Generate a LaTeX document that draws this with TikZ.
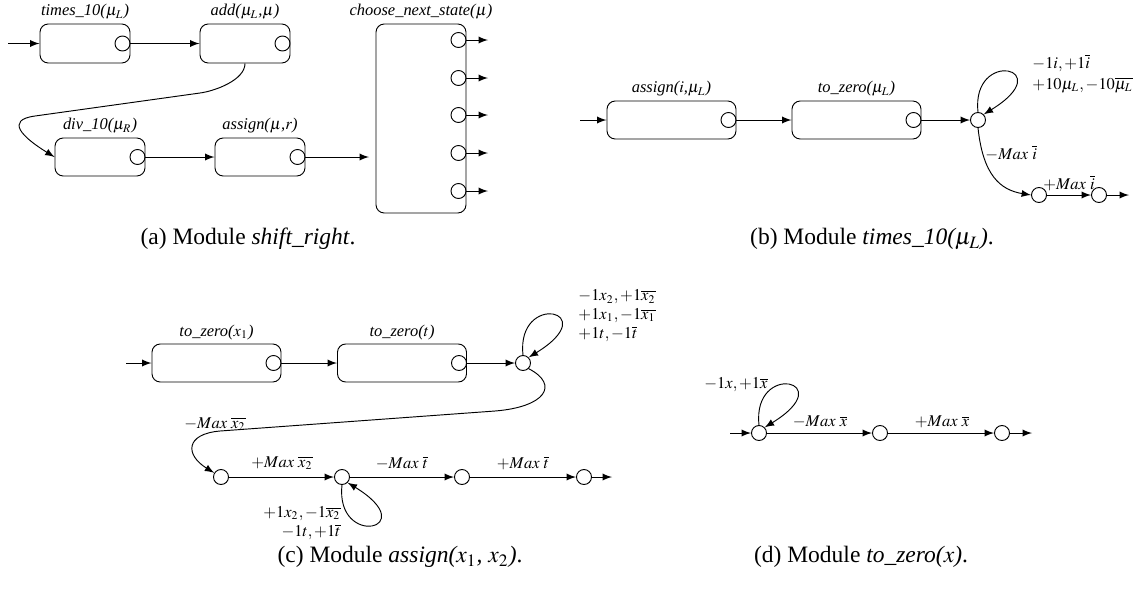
\documentclass[tikz,border=0pt]{standalone}
\usepackage{mathptmx}
\usepackage{fontspec}
\setmainfont{Liberation Serif}
\newcommand{\px}{0.4255pt}
\newcommand{\boite}[6]{
  \node[draw, rounded corners=3.5pt, inner sep=0pt, minimum width=#4*\px, minimum height=#5*\px] (#1) at (#2,#3) {};
  \node[draw, circle, inner sep=0pt, minimum size=15*\px, anchor=east] (#1c) at (#1.east) {};
  \node[above, inner sep=1.5pt, font=\fontsize{7}{8}\selectfont\itshape] (#1t) at (#1.north) {#6};
}
\newcommand{\etat}[3]{\node[draw, circle, inner sep=0pt, minimum size=15*\px] (#1) at (#2,#3) {};}
\newcommand{\boucle}[1]{\draw[-latex] (#1.north) .. controls +(-7,-64) and +(77,-47) .. (#1.north east);}

\begin{document}
\begin{tikzpicture}[x=\px, y=-\px, etiq/.style={inner sep=0pt, font=\fontsize{7}{8}\selectfont}]
\useasboundingbox (0,0) rectangle (1137,589);

\coordinate (ain) at (8,43.5);
\boite{a1}{85}{43.5}{90}{39}{times\_10($\mu_L$)}
\boite{a2}{245}{43.5}{90}{39}{add($\mu_L$,$\mu$)}
\boite{a3}{100}{157}{90}{38}{div\_10($\mu_R$)}
\boite{a4}{260}{157}{90}{38}{assign($\mu$,$r$)}
\node[draw, rounded corners=3.5pt, inner sep=0pt, minimum width=90*\px, minimum height=189*\px] (a5) at (421,118.5) {};
\node[above, inner sep=1.5pt, font=\fontsize{7}{8}\selectfont\itshape] (a5t) at (a5.north) {choose\_next\_state($\mu$)};
\coordinate (a5in) at (369,157);
\draw[-latex] (ain) -- (a1);
\draw[-latex] (a1) -- (a2);
\draw[-latex] (a2.south) .. controls (245,80) and (215,91) .. (200,93) -- (35,116) .. controls (5,120) and (22,137) .. (a3.west);
\draw[-latex] (a3) -- (a4);
\draw[-latex] (a4) -- (a5in);
\foreach \y [count=\i] in {40,78,115,153,191} {
  \etat{q\i}{458.5}{\y}
  \coordinate (o\i) at (488,\y);
  \draw[-latex] (q\i) -- (o\i);
}

\coordinate (bin) at (580,120);
\boite{b1}{671.5}{120}{129}{38}{assign($i$,$\mu_L$)}
\boite{b2}{856.5}{120}{129}{38}{to\_zero($\mu_L$)}
\etat{b3}{978}{120}
\etat{b4}{1039}{195}
\etat{b5}{1099}{195}
\coordinate (bout) at (1129,195);
\draw[-latex] (bin) -- (b1);
\draw[-latex] (b1) -- (b2);
\draw[-latex] (b2) -- (b3);
\boucle{b3}
\draw[-latex] (b3.south) .. controls (983,175) and (1000,190) .. (b4.west);
\draw[-latex] (b4) -- (b5);
\draw[-latex] (b5) -- (bout);
\node[etiq, anchor=west, align=left] (lb1) at (1032,73.5) {$-1i, +1\overline{i}$\\[1pt]$+10\mu_L, -10\overline{\mu_L}$};
\node[etiq, anchor=west] (lb2) at (985,153) {$-Max\ \overline{i}$};
\node[etiq] (lb3) at (1069,183) {$+Max\ \overline{i}$};

\coordinate (cin) at (126,363);
\boite{c1}{216.5}{363}{129}{38}{to\_zero($x_1$)}
\boite{c2}{402}{363}{129}{38}{to\_zero($t$)}
\etat{c3}{523}{363}
\etat{c4}{221}{477}
\etat{c5}{342}{477}
\etat{c6}{462}{477}
\etat{c7}{584}{477}
\coordinate (cout) at (612,477);
\draw[-latex] (cin) -- (c1);
\draw[-latex] (c1) -- (c2);
\draw[-latex] (c2) -- (c3);
\boucle{c3}
\draw[-latex] (c3.south east) .. controls (560,385) and (545,407) .. (495,411) -- (220,431) .. controls (185,434) and (185,455) .. (c4);
\draw[-latex] (c4) -- (c5);
\draw[-latex] (c5) -- (c6);
\draw[-latex] (c6) -- (c7);
\draw[-latex] (c7) -- (cout);
\draw[-latex] (c5.south) .. controls +(-7,64) and +(77,47) .. (c5.south east);
\node[etiq, anchor=west, align=left] (lc1) at (578,315.5) {$-1x_2, +1\overline{x_2}$\\$+1x_1, -1\overline{x_1}$\\$+1t, -1\overline{t}$};
\node[etiq] (lc2) at (215,424) {$-Max\ \overline{x_2}$};
\node[etiq] (lc3) at (282,463) {$+Max\ \overline{x_2}$};
\node[etiq] (lc4) at (402,463) {$-Max\ \overline{t}$};
\node[etiq] (lc5) at (523,463) {$+Max\ \overline{t}$};
\node[etiq, anchor=east, align=right] (lc6) at (341,523) {$+1x_2, -1\overline{x_2}$\\$-1t, +1\overline{t}$};

\coordinate (din) at (730,433);
\etat{d1}{759}{433}
\etat{d2}{880}{433}
\etat{d3}{1002}{433}
\coordinate (dout) at (1032,433);
\draw[-latex] (din) -- (d1);
\draw[-latex] (d1) -- (d2);
\draw[-latex] (d2) -- (d3);
\draw[-latex] (d3) -- (dout);
\boucle{d1}
\node[etiq] (ld1) at (736,385) {$-1x, +1\overline{x}$};
\node[etiq] (ld2) at (820,422) {$-Max\ \overline{x}$};
\node[etiq] (ld3) at (942,422) {$+Max\ \overline{x}$};

\node (capa) at (248,239) {(a) Module \textit{shift\_right}.};
\node (capb) at (872,239) {(b) Module \textit{times\_10($\mu_L$)}.};
\node (capc) at (400,557) {(c) Module \textit{assign($x_1$, $x_2$)}.};
\node (capd) at (861,557) {(d) Module \textit{to\_zero($x$)}.};
\end{tikzpicture}
\end{document}
